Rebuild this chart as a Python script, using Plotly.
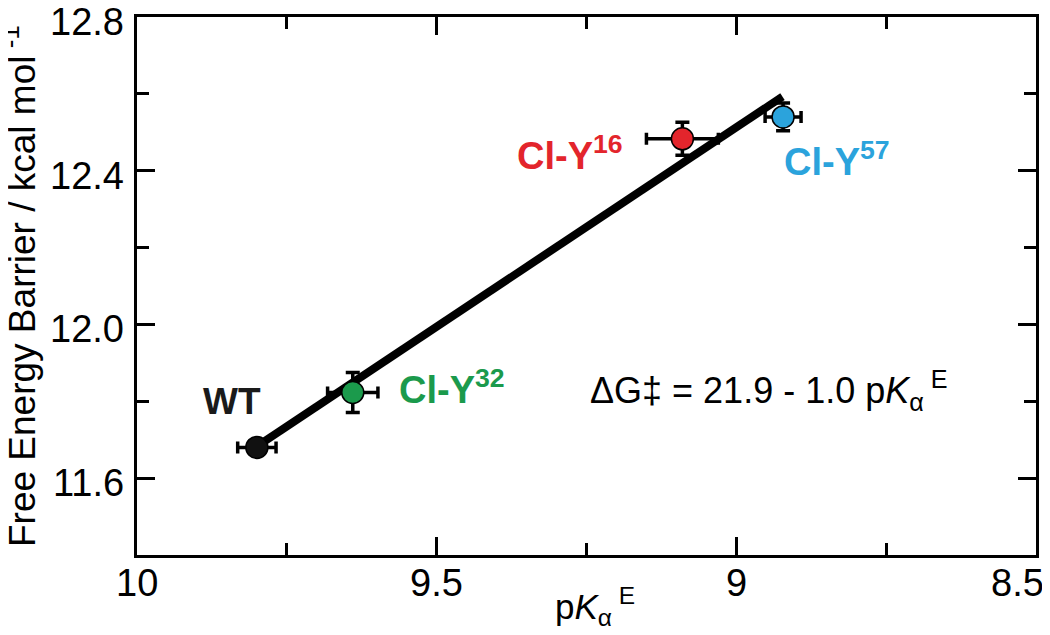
import plotly.graph_objects as go

# ---- data ----
names = ["WT", "Cl-Y32", "Cl-Y16", "Cl-Y57"]
pka = [9.80, 9.64, 9.09, 8.922]
dG = [11.68, 11.823, 12.483, 12.54]
pka_err = [0.032, 0.042, 0.06, 0.03]
dG_err = [0.0, 0.052, 0.043, 0.036]
colors = ["#111111", "#1b9a4c", "#e3252c", "#2ba3dc"]

fit_x = [9.79, 8.923]
fit_y = [11.693, 12.593]

label_text = ["<b>WT</b>", "<b>Cl-Y<sup>32</sup></b>", "<b>Cl-Y<sup>16</sup></b>", "<b>Cl-Y<sup>57</sup></b>"]
label_x = [9.842, 9.566, 9.37, 8.923]
label_y = [11.80, 11.836, 12.445, 12.43]
label_anchor = ["center", "left", "left", "left"]
label_size = [37, 38, 38, 38]

x_ticks = [10, 9.5, 9, 8.5]
x_ticktext = ["10", "9.5", "9", "8.5"]
y_ticks = [11.6, 12.0, 12.4, 12.8]
y_ticktext = ["11.6", "12.0", "12.4", "12.8"]

FONT = "Liberation Sans, Arial, Helvetica, sans-serif"

fig = go.Figure()

fig.add_trace(go.Scatter(
    x=fit_x, y=fit_y, mode="lines",
    line=dict(color="black", width=8), showlegend=False, hoverinfo="skip"))

for i in range(len(names)):
    fig.add_trace(go.Scatter(
        x=[pka[i]], y=[dG[i]], mode="markers",
        marker=dict(size=22, color=colors[i], line=dict(color="black", width=1.5)),
        error_x=dict(type="data", array=[pka_err[i]], color="black", thickness=3.5, width=6),
        error_y=dict(type="data", array=[dG_err[i]], color="black", thickness=3.5, width=7,
                     visible=dG_err[i] > 0),
        showlegend=False, name=names[i]))

for i in range(len(names)):
    fig.add_annotation(
        x=label_x[i], y=label_y[i], xref="x", yref="y",
        text=label_text[i], showarrow=False, xanchor=label_anchor[i], yanchor="middle",
        font=dict(family=FONT, size=label_size[i], color=colors[i] if i > 0 else "#1a1a1a"))

fig.add_annotation(
    x=9.248, y=11.829, xref="x", yref="y", xanchor="left", yanchor="middle",
    text="ΔG‡ = 21.9 - 1.0 p<i>K</i><sub>α</sub><sup> E</sup>", showarrow=False,
    font=dict(family=FONT, size=36, color="black"))

# axis titles
fig.add_annotation(
    x=(19 - 137) / 899, y=0.5, xref="paper", yref="paper", xanchor="center", yanchor="middle",
    textangle=-90, text="Free Energy Barrier / kcal mol<sup> -1</sup>", showarrow=False,
    font=dict(family=FONT, size=37, color="black"))

fig.add_annotation(
    x=(595 - 137) / 899, y=(555 - 633) / 538, xref="paper", yref="paper",
    xanchor="center", yanchor="bottom",
    text="p<i>K</i><sub>α</sub><sup> E</sup>", showarrow=False,
    font=dict(family=FONT, size=35, color="black"))

# x tick labels (the last one is nudged inward so it stays on the page, as in the reference)
for v, t in zip(x_ticks, x_ticktext):
    fig.add_annotation(
        x=v, y=(555 - 583) / 538, xref="x", yref="paper", xanchor="center", yanchor="middle",
        text=t, showarrow=False, xshift=-19 if v == x_ticks[-1] else 0,
        font=dict(family=FONT, size=38, color="black"))

# y tick labels
for v, t in zip(y_ticks, y_ticktext):
    fig.add_annotation(
        x=(126 - 137) / 899, y=v, xref="paper", yref="y", xanchor="right", yanchor="middle",
        text=t, showarrow=False, yshift=-5,
        font=dict(family=FONT, size=38, color="black"))

axis_common = dict(
    showgrid=False, zeroline=False, showline=True, linecolor="black", linewidth=3,
    mirror="ticks", ticks="inside", tickcolor="black", tickwidth=2.5,
    showticklabels=False, automargin=False,
)

fig.update_xaxes(
    range=[10, 8.5], tickvals=x_ticks, ticklen=18,
    minor=dict(ticks="inside", dtick=0.25, tick0=10, ticklen=12, tickcolor="black", tickwidth=2.5),
    **axis_common)
fig.update_yaxes(
    range=[11.4, 12.8], tickvals=y_ticks, ticklen=18,
    minor=dict(ticks="inside", dtick=0.2, tick0=11.4, ticklen=12, tickcolor="black", tickwidth=2.5),
    **axis_common)

# page body has an 8px margin, so the figure is sized/offset to land the plot frame where the reference has it
fig.update_layout(
    width=1042, height=627,
    margin=dict(l=129, r=14, t=9, b=80, autoexpand=False),
    plot_bgcolor="white", paper_bgcolor="white",
    font=dict(family=FONT),
)

fig.write_html("out.html")
